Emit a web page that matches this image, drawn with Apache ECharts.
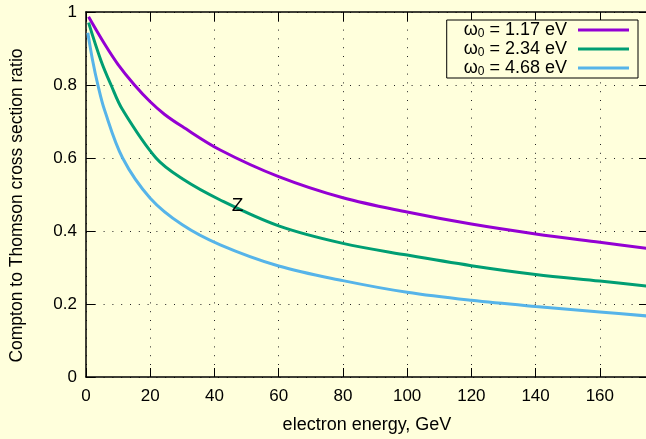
<!DOCTYPE html>
<html>
<head>
<meta charset="utf-8">
<script src="https://cdn.jsdelivr.net/npm/echarts@6/dist/echarts.min.js"></script>
<style>
  html, body { margin: 0; padding: 0; background: #ffffdc; }
  #chart { width: 646px; height: 439px; }
</style>
</head>
<body>
<div id="chart"></div>
<script>
// Compton / Thomson cross-section ratio vs electron energy, three laser photon energies
const photonEnergies = ['1.17', '2.34', '4.68'];

const energy117 = [0.8, 5.75, 10, 15.1, 20, 24.4, 30, 41.8, 60, 80, 100, 120, 140, 160, 175];
const ratio117  = [0.987, 0.913, 0.856, 0.80, 0.754, 0.72, 0.686, 0.622, 0.549, 0.491, 0.452, 0.419, 0.392, 0.369, 0.352];

const energy234 = [0.8, 4.7, 7.8, 11.4, 21.8, 30, 41.8, 60, 80, 100, 120, 140, 160, 175];
const ratio234  = [0.971, 0.866, 0.80, 0.732, 0.60, 0.543, 0.485, 0.414, 0.366, 0.334, 0.305, 0.281, 0.263, 0.249];

const energy468 = [0.57, 2, 3.7, 5.75, 11.4, 20, 30, 41.8, 60, 80, 100, 120, 140, 160, 175];
const ratio468  = [0.943, 0.87, 0.80, 0.732, 0.60, 0.49, 0.417, 0.362, 0.304, 0.264, 0.232, 0.210, 0.193, 0.178, 0.167];

const xTicks = [0, 20, 40, 60, 80, 100, 120, 140, 160];
const yTicks = [0, 0.2, 0.4, 0.6, 0.8, 1];

const energies = [energy117, energy234, energy468];
const ratios = [ratio117, ratio234, ratio468];
const colors = ['#9400d3', '#009e73', '#56b4e9'];

const FONT = 'Liberation Sans, Arial, sans-serif';
const seriesName = w => 'ω0 = ' + w + ' eV';

const dotted = { color: '#222', width: 1, type: [1, 7.8] };

function mirrorAxis(extra) {
  return Object.assign({
    type: 'value',
    axisLine: { show: true, onZero: false, lineStyle: { color: '#000', width: 1.5 } },
    axisTick: { show: true, inside: true, length: 9, lineStyle: { color: '#000', width: 1 } },
    axisLabel: { show: false },
    splitLine: { show: false }
  }, extra);
}

const series = photonEnergies.map((w, i) => ({
  name: seriesName(w),
  type: 'line',
  data: energies[i].map((e, k) => [e, ratios[i][k]]),
  smooth: 0.35,
  showSymbol: false,
  clip: true,
  lineStyle: { color: colors[i], width: 3 },
  itemStyle: { color: colors[i] },
  z: 3
}));

// annotation letter next to the middle curve
series[1].markPoint = {
  symbol: 'circle',
  symbolSize: 0,
  silent: true,
  data: [{ coord: [47.2, 0.4685] }],
  label: { show: true, formatter: 'Z', color: '#000', fontSize: 19, fontFamily: FONT, position: 'inside' }
};

const chart = echarts.init(document.getElementById('chart'), null, { renderer: 'canvas' });
chart.setOption({
  animation: false,
  backgroundColor: '#ffffdc',
  grid: { left: 86, right: -2, top: 12, bottom: 62, outerBoundsMode: 'none', containLabel: false },
  legend: {
    orient: 'vertical',
    right: 8,
    top: 20,
    align: 'right',
    icon: 'rect',
    itemWidth: 51,
    itemHeight: 3,
    itemGap: 0,
    padding: [1, 9, 0, 17],
    borderColor: '#000',
    borderWidth: 1,
    backgroundColor: '#ffffdc',
    data: photonEnergies.map(seriesName),
    formatter: name => '{a|ω}{b|0}{c|' + name.slice(2) + '}',
    textStyle: {
      color: '#000',
      fontFamily: FONT,
      rich: {
        a: { fontSize: 18, lineHeight: 20, color: '#000', fontFamily: FONT },
        b: { fontSize: 12, lineHeight: 10, verticalAlign: 'bottom', color: '#000', fontFamily: FONT },
        c: { fontSize: 18, lineHeight: 20, color: '#000', fontFamily: FONT, padding: [0, 6, 0, 0] }
      }
    }
  },
  xAxis: [
    {
      type: 'value',
      min: 0,
      max: 175,
      interval: 20,
      position: 'bottom',
      name: 'electron energy, GeV',
      nameLocation: 'middle',
      nameGap: 39,
      nameTextStyle: { color: '#000', fontSize: 18, fontFamily: FONT },
      axisLine: { show: true, onZero: false, lineStyle: { color: '#000', width: 1.5 } },
      axisTick: { show: true, inside: true, length: 9, lineStyle: { color: '#000', width: 1 } },
      axisLabel: {
        color: '#000', fontSize: 17, fontFamily: FONT, margin: 11,
        formatter: v => xTicks.includes(v) ? String(v) : ''
      },
      splitLine: { show: true, lineStyle: dotted }
    },
    mirrorAxis({ min: 0, max: 175, interval: 20, position: 'top' })
  ],
  yAxis: [
    {
      type: 'value',
      min: 0,
      max: 1,
      interval: 0.2,
      position: 'left',
      name: 'Compton to Thomson cross section ratio',
      nameLocation: 'middle',
      nameGap: 60,
      nameTextStyle: { color: '#000', fontSize: 17.5, fontFamily: FONT, padding: [0, 22, 0, 0] },
      axisLine: { show: true, onZero: false, lineStyle: { color: '#000', width: 1.5 } },
      axisTick: { show: true, inside: true, length: 9, lineStyle: { color: '#000', width: 1 } },
      axisLabel: {
        color: '#000', fontSize: 17, fontFamily: FONT, margin: 9,
        formatter: v => {
          const t = yTicks.find(y => Math.abs(y - v) < 1e-9);
          return t === undefined ? '' : String(t);
        }
      },
      splitLine: { show: true, lineStyle: dotted }
    },
    mirrorAxis({ min: 0, max: 1, interval: 0.2, position: 'right' })
  ],
  series: series
});
</script>
</body>
</html>
